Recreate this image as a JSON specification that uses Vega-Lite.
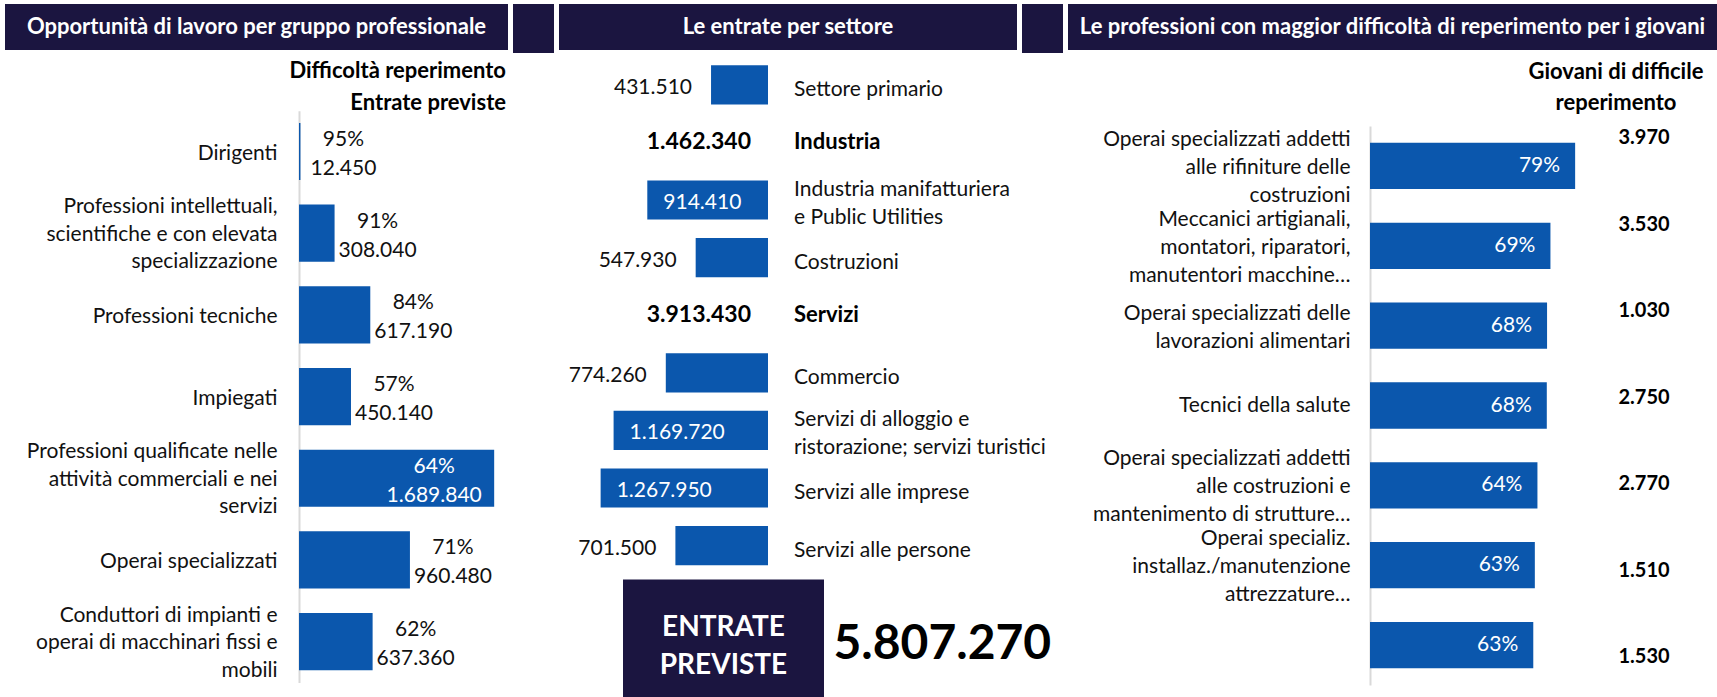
{
  "$schema": "https://vega.github.io/schema/vega-lite/v6.json",
  "padding": {"left": 5, "top": 4, "right": 0, "bottom": 0},
  "spacing": 3,
  "config": {
    "locale": {"number": {"decimal": ",", "thousands": ".", "grouping": [3], "currency": ["€", ""]}},
    "view": {"stroke": null},
    "font": "Lato",
    "text": {"font": "Lato", "fontSize": 21, "color": "#111111", "baseline": "middle"},
    "bar": {"color": "#0b57ad"},
    "rect": {"color": "#1b1540"}
  },
  "vconcat": [
    {
      "hconcat": [
        {
          "width": 503, "height": 46,
          "view": {"fill": "#1b1540", "stroke": null},
          "data": {"values": [{"titolo": "Opportunità di lavoro per gruppo professionale"}]},
          "mark": {"type": "text", "color": "#ffffff", "fontWeight": "bold", "fontSize": 22},
          "encoding": {"text": {"field": "titolo"}}
        },
        {
          "width": 41, "height": 49,
          "view": {"fill": "#1b1540", "stroke": null},
          "data": {"values": [{"t": ""}]},
          "mark": {"type": "text"},
          "encoding": {"text": {"field": "t"}}
        },
        {
          "width": 458, "height": 46,
          "view": {"fill": "#1b1540", "stroke": null},
          "data": {"values": [{"titolo": "Le entrate per settore"}]},
          "mark": {"type": "text", "color": "#ffffff", "fontWeight": "bold", "fontSize": 22},
          "encoding": {"text": {"field": "titolo"}}
        },
        {
          "width": 41, "height": 49,
          "view": {"fill": "#1b1540", "stroke": null},
          "data": {"values": [{"t": ""}]},
          "mark": {"type": "text"},
          "encoding": {"text": {"field": "t"}}
        },
        {
          "width": 649, "height": 46,
          "view": {"fill": "#1b1540", "stroke": null},
          "data": {"values": [{"titolo": "Le professioni con maggior difficoltà di reperimento per i giovani"}]},
          "mark": {"type": "text", "color": "#ffffff", "fontWeight": "bold", "fontSize": 22},
          "encoding": {"text": {"field": "titolo"}}
        }
      ],
      "spacing": 5,
      "bounds": "flush"
    },
    {
      "hconcat": [
        {
          "width": 503, "height": 641,
          "data": {"values": [
            {"gruppo": "Dirigenti", "difficolta": 0.95, "entrate": 12450},
            {"gruppo": "Professioni intellettuali,|scientifiche e con elevata|specializzazione", "difficolta": 0.91, "entrate": 308040},
            {"gruppo": "Professioni tecniche", "difficolta": 0.84, "entrate": 617190},
            {"gruppo": "Impiegati", "difficolta": 0.57, "entrate": 450140},
            {"gruppo": "Professioni qualificate nelle|attività commerciali e nei|servizi", "difficolta": 0.64, "entrate": 1689840},
            {"gruppo": "Operai specializzati", "difficolta": 0.71, "entrate": 960480},
            {"gruppo": "Conduttori di impianti e|operai di macchinari fissi e|mobili", "difficolta": 0.62, "entrate": 637360}
          ]},
          "layer": [
            {
              "mark": {"type": "bar", "color": "#0b57ad"},
              "encoding": {
                "x": {"field": "entrate", "type": "quantitative", "scale": {"domain": [0, 1000000], "range": [294, 409.5]}, "axis": null},
                "y": {"field": "gruppo", "type": "nominal", "sort": null,
                  "scale": {"range": [54.7, 626.4], "paddingInner": 0.3, "paddingOuter": 0.15},
                  "axis": {"orient": "left", "offset": -294, "title": null, "ticks": false, "tickSize": 0, "labelPadding": 22,
                    "labelExpr": "split(datum.label, '|')", "labelFont": "Lato", "labelFontSize": 21, "labelColor": "#111111",
                    "labelLineHeight": 27.5, "labelLimit": 400, "labelAlign": "right", "labelBaseline": "middle",
                    "labelOffset": {"condition": {"test": "indexof(datum.value, '|') >= 0", "value": -26}, "value": 2},
                    "labelOverlap": false, "labelFlush": false, "domainColor": "#d9d9d9", "domainWidth": 2, "grid": false}}
              }
            },
            {
              "transform": [{"filter": "datum.entrate < 1500000"}],
              "mark": {"type": "text", "align": "center", "dx": 43, "dy": -11.5},
              "encoding": {
                "x": {"field": "entrate", "type": "quantitative", "axis": null},
                "y": {"field": "gruppo", "type": "nominal", "sort": null},
                "text": {"field": "difficolta", "type": "quantitative", "format": ".0%"}
              }
            },
            {
              "transform": [{"filter": "datum.entrate < 1500000"}],
              "mark": {"type": "text", "align": "center", "dx": 43, "dy": 17.5},
              "encoding": {
                "x": {"field": "entrate", "type": "quantitative", "axis": null},
                "y": {"field": "gruppo", "type": "nominal", "sort": null},
                "text": {"field": "entrate", "type": "quantitative", "format": ",d"}
              }
            },
            {
              "transform": [{"filter": "datum.entrate >= 1500000"}],
              "mark": {"type": "text", "align": "center", "dx": -60, "dy": -11.5, "color": "#ffffff"},
              "encoding": {
                "x": {"field": "entrate", "type": "quantitative", "axis": null},
                "y": {"field": "gruppo", "type": "nominal", "sort": null},
                "text": {"field": "difficolta", "type": "quantitative", "format": ".0%"}
              }
            },
            {
              "transform": [{"filter": "datum.entrate >= 1500000"}],
              "mark": {"type": "text", "align": "center", "dx": -60, "dy": 17.5, "color": "#ffffff"},
              "encoding": {
                "x": {"field": "entrate", "type": "quantitative", "axis": null},
                "y": {"field": "gruppo", "type": "nominal", "sort": null},
                "text": {"field": "entrate", "type": "quantitative", "format": ",d"}
              }
            },
            {
              "data": {"values": [{"t": "Difficoltà reperimento|Entrate previste"}]},
              "mark": {"type": "text", "lineBreak": "|", "align": "right", "fontWeight": "bold", "fontSize": 22, "lineHeight": 32, "dy": -305.8, "color": "#000000"},
              "encoding": {
                "x": {"datum": 1792000, "type": "quantitative", "axis": null},
                "text": {"field": "t"}
              }
            }
          ]
        },
        {
          "width": 458, "height": 641,
          "layer": [
            {
              "data": {"values": [
                {"settore": "Settore primario", "entrate": 431510, "livello": "dettaglio"},
                {"settore": "Industria", "entrate": 1462340, "livello": "totale"},
                {"settore": "Industria manifatturiera|e Public Utilities", "entrate": 914410, "livello": "dettaglio"},
                {"settore": "Costruzioni", "entrate": 547930, "livello": "dettaglio"},
                {"settore": "Servizi", "entrate": 3913430, "livello": "totale"},
                {"settore": "Commercio", "entrate": 774260, "livello": "dettaglio"},
                {"settore": "Servizi di alloggio e|ristorazione; servizi turistici", "entrate": 1169720, "livello": "dettaglio"},
                {"settore": "Servizi alle imprese", "entrate": 1267950, "livello": "dettaglio"},
                {"settore": "Servizi alle persone", "entrate": 701500, "livello": "dettaglio"}
              ]},
              "layer": [
                {
                  "transform": [{"filter": "datum.livello == 'dettaglio'"}],
                  "mark": {"type": "bar", "color": "#0b57ad"},
                  "encoding": {
                    "x": {"field": "entrate", "type": "quantitative", "scale": {"domain": [0, 1000000], "range": [209, 77]}, "axis": null},
                    "y": {"field": "settore", "type": "nominal",
                      "sort": ["Settore primario", "Industria", "Industria manifatturiera|e Public Utilities", "Costruzioni", "Servizi", "Commercio", "Servizi di alloggio e|ristorazione; servizi turistici", "Servizi alle imprese", "Servizi alle persone"],
                      "scale": {"domain": ["Settore primario", "Industria", "Industria manifatturiera|e Public Utilities", "Costruzioni", "Servizi", "Commercio", "Servizi di alloggio e|ristorazione; servizi turistici", "Servizi alle imprese", "Servizi alle persone"], "range": [0, 518.4], "paddingInner": 0.32, "paddingOuter": 0.16},
                      "axis": null}
                  }
                },
                {
                  "transform": [{"filter": "datum.livello == 'dettaglio' && datum.entrate < 850000"}],
                  "mark": {"type": "text", "align": "right", "dx": -19, "dy": 3},
                  "encoding": {
                    "x": {"field": "entrate", "type": "quantitative", "axis": null},
                    "y": {"field": "settore", "type": "nominal", "axis": null},
                    "text": {"field": "entrate", "type": "quantitative", "format": ",d"}
                  }
                },
                {
                  "transform": [{"filter": "datum.livello == 'dettaglio' && datum.entrate >= 850000"}],
                  "mark": {"type": "text", "align": "left", "dx": 16, "dy": 3, "color": "#ffffff"},
                  "encoding": {
                    "x": {"field": "entrate", "type": "quantitative", "axis": null},
                    "y": {"field": "settore", "type": "nominal", "axis": null},
                    "text": {"field": "entrate", "type": "quantitative", "format": ",d"}
                  }
                },
                {
                  "transform": [{"filter": "datum.livello == 'totale'"}],
                  "mark": {"type": "text", "align": "right", "dx": -17, "dy": 0, "fontWeight": "bold", "fontSize": 23, "color": "#000000"},
                  "encoding": {
                    "x": {"datum": 0, "type": "quantitative", "axis": null},
                    "y": {"field": "settore", "type": "nominal", "axis": null},
                    "text": {"field": "entrate", "type": "quantitative", "format": ",d"}
                  }
                },
                {
                  "transform": [{"filter": "datum.livello == 'dettaglio' && indexof(datum.settore, '|') < 0"}],
                  "mark": {"type": "text", "align": "left", "dx": 26, "dy": 5},
                  "encoding": {
                    "x": {"datum": 0, "type": "quantitative", "axis": null},
                    "y": {"field": "settore", "type": "nominal", "axis": null},
                    "text": {"field": "settore"}
                  }
                },
                {
                  "transform": [{"filter": "datum.livello == 'dettaglio' && indexof(datum.settore, '|') >= 0"}],
                  "mark": {"type": "text", "align": "left", "dx": 26, "dy": -10.5, "lineBreak": "|", "lineHeight": 28.3},
                  "encoding": {
                    "x": {"datum": 0, "type": "quantitative", "axis": null},
                    "y": {"field": "settore", "type": "nominal", "axis": null},
                    "text": {"field": "settore"}
                  }
                },
                {
                  "transform": [{"filter": "datum.livello == 'totale'"}],
                  "mark": {"type": "text", "align": "left", "dx": 26, "dy": 0, "fontWeight": "bold", "fontSize": 22, "color": "#000000"},
                  "encoding": {
                    "x": {"datum": 0, "type": "quantitative", "axis": null},
                    "y": {"field": "settore", "type": "nominal", "axis": null},
                    "text": {"field": "settore"}
                  }
                }
              ]
            },
            {
              "data": {"values": [{"voce": "ENTRATE|PREVISTE", "totale": 5807270}]},
              "layer": [
                {
                  "mark": {"type": "rect", "color": "#1b1540"},
                  "encoding": {
                    "x": {"field": "voce", "type": "nominal", "scale": {"range": [64, 265], "paddingInner": 0, "paddingOuter": 0}, "axis": null},
                    "y": {"field": "voce", "type": "nominal", "scale": {"range": [523.5, 641], "paddingInner": 0, "paddingOuter": 0}, "axis": null}
                  }
                },
                {
                  "mark": {"type": "text", "color": "#ffffff", "fontWeight": "bold", "fontSize": 28, "lineBreak": "|", "lineHeight": 38, "dy": -10},
                  "encoding": {
                    "x": {"field": "voce", "type": "nominal", "axis": null},
                    "y": {"field": "voce", "type": "nominal", "axis": null},
                    "text": {"field": "voce"}
                  }
                },
                {
                  "mark": {"type": "text", "color": "#000000", "fontWeight": "bold", "fontSize": 48, "align": "left", "dx": 110, "dy": 7},
                  "encoding": {
                    "x": {"field": "voce", "type": "nominal", "axis": null},
                    "y": {"field": "voce", "type": "nominal", "axis": null},
                    "text": {"field": "totale", "type": "quantitative", "format": ",d"}
                  }
                }
              ]
            }
          ],
          "resolve": {"scale": {"x": "independent", "y": "independent"}}
        },
        {
          "width": 649, "height": 641,
          "layer": [
            {
              "data": {"values": [
                {"professione": "Operai specializzati addetti|alle rifiniture delle|costruzioni", "difficolta": 0.789, "giovani": 3970},
                {"professione": "Meccanici artigianali,|montatori, riparatori,|manutentori macchine…", "difficolta": 0.694, "giovani": 3530},
                {"professione": "Operai specializzati delle|lavorazioni alimentari", "difficolta": 0.681, "giovani": 1030},
                {"professione": "Tecnici della salute", "difficolta": 0.68, "giovani": 2750},
                {"professione": "Operai specializzati addetti|alle costruzioni e|mantenimento di strutture…", "difficolta": 0.644, "giovani": 2770},
                {"professione": "Operai specializ.|installaz./manutenzione|attrezzature…", "difficolta": 0.634, "giovani": 1510},
                {"professione": " ", "difficolta": 0.628, "giovani": 1530}
              ]},
              "layer": [
                {
                  "layer": [
                    {
                      "mark": {"type": "bar", "color": "#0b57ad"},
                      "encoding": {
                        "x": {"field": "difficolta", "type": "quantitative", "scale": {"domain": [0, 1], "range": [302, 562]}, "axis": null},
                        "y": {"field": "professione", "type": "nominal", "sort": null,
                          "scale": {"range": [70, 629], "paddingInner": 0.42, "paddingOuter": 0.21},
                          "axis": {"orient": "left", "offset": -302, "title": null, "ticks": false, "tickSize": 0, "labelPadding": 20,
                            "labelExpr": "split(datum.label, '|')", "labelFont": "Lato", "labelFontSize": 21, "labelColor": "#111111",
                            "labelLineHeight": 28, "labelLimit": 400, "labelAlign": "right", "labelBaseline": "middle",
                            "labelOffset": {"condition": [
                              {"test": "length(split(datum.value, '|')) == 3", "value": -26},
                              {"test": "length(split(datum.value, '|')) == 2", "value": -12}
                            ], "value": 0},
                            "labelOverlap": false, "labelFlush": false, "domainColor": "#d9d9d9", "domainWidth": 2, "grid": false}}
                      }
                    },
                    {
                      "mark": {"type": "text", "align": "right", "dx": -15, "color": "#ffffff"},
                      "encoding": {
                        "x": {"field": "difficolta", "type": "quantitative", "axis": null},
                        "y": {"field": "professione", "type": "nominal", "sort": null},
                        "text": {"field": "difficolta", "type": "quantitative", "format": ".0%"}
                      }
                    }
                  ]
                },
                {
                  "mark": {"type": "text", "align": "center", "fontWeight": "bold", "fontSize": 20, "color": "#000000"},
                  "encoding": {
                    "x": {"datum": 1.054, "type": "quantitative", "axis": null},
                    "y": {"field": "professione", "type": "nominal", "sort": null, "scale": {"type": "point", "range": [82, 601], "padding": 0}, "axis": null},
                    "text": {"field": "giovani", "type": "quantitative", "format": ",d"}
                  }
                }
              ],
              "resolve": {"scale": {"y": "independent"}}
            },
            {
              "data": {"values": [{"t": "Giovani di difficile|reperimento"}]},
              "mark": {"type": "text", "lineBreak": "|", "align": "center", "fontWeight": "bold", "fontSize": 22, "lineHeight": 31, "dy": -304.5, "color": "#000000"},
              "encoding": {
                "x": {"datum": 0.946, "type": "quantitative", "axis": null},
                "text": {"field": "t"}
              }
            }
          ]
        }
      ],
      "spacing": 51,
      "bounds": "flush"
    }
  ]
}
